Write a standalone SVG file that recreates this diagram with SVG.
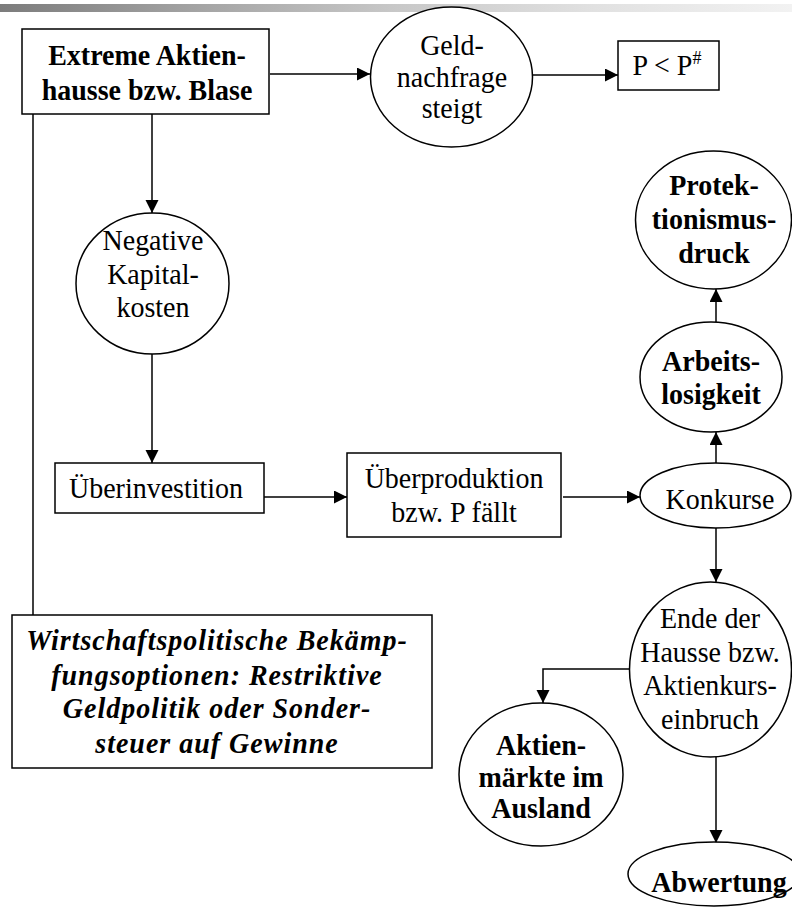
<svg xmlns="http://www.w3.org/2000/svg" width="792" height="907" viewBox="0 0 792 907">
<style>
.shape{fill:#fff;stroke:#000;stroke-width:1.5}
.ln{fill:none;stroke:#000;stroke-width:1.5}
text{font-family:"Liberation Serif","Times New Roman",serif;font-size:28px;fill:#000;text-anchor:middle}
.b{font-weight:bold}
.bi{font-weight:bold;font-style:italic;letter-spacing:1px}
</style>
<defs>
<linearGradient id="bar" x1="0" y1="0" x2="1" y2="0">
<stop offset="0" stop-color="#7c7c7c"/>
<stop offset="0.25" stop-color="#a4a4a4"/>
<stop offset="0.5" stop-color="#c8c8c8"/>
<stop offset="0.75" stop-color="#e1e1e1"/>
<stop offset="1" stop-color="#f2f2f2"/>
</linearGradient>
<marker id="ah" markerUnits="userSpaceOnUse" markerWidth="14" markerHeight="14" refX="13" refY="6.5" orient="auto">
<path d="M0,0 L13,6.5 L0,13 z" fill="#000"/>
</marker>
</defs>
<rect x="0" y="4" width="792" height="8" fill="url(#bar)"/>

<g id="connectors">
<line class="ln" x1="270" y1="74" x2="370" y2="74" marker-end="url(#ah)"/>
<line class="ln" x1="533" y1="75" x2="618" y2="75" marker-end="url(#ah)"/>
<line class="ln" x1="152" y1="114" x2="152" y2="213" marker-end="url(#ah)"/>
<line class="ln" x1="33" y1="114" x2="33" y2="615"/>
<line class="ln" x1="152" y1="354" x2="152" y2="463" marker-end="url(#ah)"/>
<line class="ln" x1="262" y1="497" x2="347" y2="497" marker-end="url(#ah)"/>
<line class="ln" x1="563" y1="497" x2="640" y2="497" marker-end="url(#ah)"/>
<line class="ln" x1="716" y1="463" x2="716" y2="432" marker-end="url(#ah)"/>
<line class="ln" x1="716" y1="322" x2="716" y2="289" marker-end="url(#ah)"/>
<line class="ln" x1="716" y1="528" x2="716" y2="582" marker-end="url(#ah)"/>
<polyline class="ln" points="629,669 543,669 543,703" marker-end="url(#ah)"/>
<line class="ln" x1="716" y1="757" x2="716" y2="843" marker-end="url(#ah)"/>
</g>

<g id="blase">
<rect class="shape" x="22" y="29" width="247" height="85"/>
<text class="b" transform="translate(147 65) scale(1 1.08)">Extreme Aktien-</text>
<text class="b" transform="translate(147 100) scale(1 1.08)">hausse bzw. Blase</text>
</g>

<g id="geldnachfrage">
<ellipse class="shape" cx="451.5" cy="77" rx="81" ry="70"/>
<text transform="translate(452 55) scale(1 1.08)">Geld-</text>
<text transform="translate(452 87) scale(1 1.08)">nachfrage</text>
<text transform="translate(452 118) scale(1 1.08)">steigt</text>
</g>

<g id="preis">
<rect class="shape" x="618" y="41" width="101" height="49"/>
<text transform="translate(667 75) scale(1 1.08)">P &lt; P<tspan font-size="18" dy="-10">#</tspan></text>
</g>

<g id="kapitalkosten">
<ellipse class="shape" cx="152.5" cy="283.5" rx="76.5" ry="70.5"/>
<text transform="translate(153 250) scale(1 1.08)">Negative</text>
<text transform="translate(153 284) scale(1 1.08)">Kapital-</text>
<text transform="translate(153 317) scale(1 1.08)">kosten</text>
</g>

<g id="ueberinvestition">
<rect class="shape" x="55" y="463" width="209" height="50"/>
<text transform="translate(156 498) scale(1 1.08)">Überinvestition</text>
</g>

<g id="ueberproduktion">
<rect class="shape" x="347" y="453" width="214" height="84"/>
<text transform="translate(454 488) scale(1 1.08)">Überproduktion</text>
<text transform="translate(454 522) scale(1 1.08)">bzw. P fällt</text>
</g>

<g id="konkurse">
<ellipse class="shape" cx="715.5" cy="495.5" rx="75.5" ry="32.5"/>
<text transform="translate(720 509) scale(1 1.08)">Konkurse</text>
</g>

<g id="arbeitslosigkeit">
<ellipse class="shape" cx="711" cy="377" rx="71" ry="55"/>
<text class="b" transform="translate(711 371) scale(1 1.08)">Arbeits-</text>
<text class="b" transform="translate(711 404) scale(1 1.08)">losigkeit</text>
</g>

<g id="protektionismus">
<ellipse class="shape" cx="713.5" cy="220" rx="78" ry="69"/>
<text class="b" transform="translate(714 195) scale(1 1.08)">Protek-</text>
<text class="b" transform="translate(714 229) scale(1 1.08)">tionismus-</text>
<text class="b" transform="translate(714 263) scale(1 1.08)">druck</text>
</g>

<g id="ende">
<ellipse class="shape" cx="710.5" cy="669.5" rx="81" ry="87.5"/>
<text transform="translate(710 628) scale(1 1.08)">Ende der</text>
<text transform="translate(710 662) scale(1 1.08)">Hausse bzw.</text>
<text transform="translate(710 695) scale(1 1.08)">Aktienkurs-</text>
<text transform="translate(710 729) scale(1 1.08)">einbruch</text>
</g>

<g id="ausland">
<ellipse class="shape" cx="541" cy="774.5" rx="82" ry="71.5"/>
<text class="b" transform="translate(541 755) scale(1 1.08)">Aktien-</text>
<text class="b" transform="translate(541 787) scale(1 1.08)">märkte im</text>
<text class="b" transform="translate(541 818) scale(1 1.08)">Ausland</text>
</g>

<g id="abwertung">
<ellipse class="shape" cx="714" cy="874" rx="86" ry="32"/>
<text class="b" transform="translate(719 892) scale(1 1.08)">Abwertung</text>
</g>

<g id="bekaempfung">
<rect class="shape" x="12" y="615" width="420" height="153"/>
<text class="bi" transform="translate(217 650) scale(1 1.08)">Wirtschaftspolitische Bekämp-</text>
<text class="bi" transform="translate(217 685) scale(1 1.08)">fungsoptionen: Restriktive</text>
<text class="bi" transform="translate(217 718) scale(1 1.08)">Geldpolitik oder Sonder-</text>
<text class="bi" transform="translate(217 753) scale(1 1.08)">steuer auf Gewinne</text>
</g>
</svg>
